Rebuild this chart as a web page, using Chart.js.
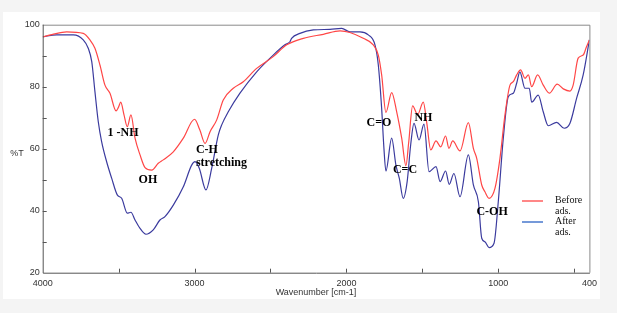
<!DOCTYPE html>
<html>
<head>
<meta charset="utf-8">
<script src="https://cdn.jsdelivr.net/npm/chart.js@4.4.1/dist/chart.umd.min.js"></script>
<style>
  html, body { margin: 0; padding: 0; background: #f4f4f4; }
  #wrap { position: absolute; left: 0; top: 0; width: 617px; height: 313px; }
</style>
</head>
<body>
<div id="wrap"><canvas id="ir" width="617" height="313"></canvas></div>
<script>
// FTIR spectra, %T vs wavenumber (cm-1)
const beforeWn = [4000, 3940, 3842, 3733, 3689, 3656, 3623, 3590, 3557, 3517, 3500, 3486, 3465, 3443, 3419, 3392,
  3359, 3326, 3282, 3239, 3206, 3140, 3074, 3000, 2965, 2931, 2898, 2854, 2811, 2745, 2679, 2591, 2482, 2393,
  2284, 2152, 2042, 1977, 1889, 1823, 1790, 1768, 1740, 1702, 1669, 1636, 1608, 1590, 1564, 1531, 1494, 1470,
  1445, 1410, 1379, 1347, 1325, 1300, 1252, 1197, 1164, 1142, 1109, 1088, 1061, 1022, 989, 956, 923, 901, 879,
  853, 824, 802, 780, 741, 704, 664, 612, 572, 528, 507, 474, 441, 419, 400];
const beforeT = [96.1, 96.8, 97.7, 97.2, 95.1, 92.4, 87, 80.5, 77.9, 72.2, 73.5, 75, 71, 67.1, 70.9, 63.4,
  58, 53.9, 53.1, 55.3, 56.4, 59, 63.4, 69.5, 66, 61.7, 65.5, 69.3, 75.7, 79.5, 81.6, 85.9, 89.7, 93.5,
  95.6, 96.9, 98, 97.5, 95.6, 93.5, 90.2, 83.8, 71.7, 78.1, 71.9, 63.4, 54.5, 62, 73.8, 71, 75, 68,
  59.6, 62.5, 60.6, 64.1, 60.1, 62.5, 59.3, 68.4, 60.1, 56.9, 48.3, 46.1, 44, 47.2, 56.9, 70.9, 80.5, 81.6, 83.8,
  85.4, 82.7, 83.8, 80, 83.8, 80.5, 77.9, 80.8, 79.3, 78.6, 80.5, 89.2, 90.2, 92.9, 95.1];

const afterWn = [4000, 3908, 3798, 3733, 3700, 3677, 3656, 3634, 3612, 3579, 3546, 3509, 3480, 3443, 3419, 3392,
  3359, 3320, 3272, 3228, 3195, 3140, 3074, 3019, 2997, 2969, 2925, 2887, 2844, 2822, 2778, 2701, 2591, 2482,
  2405, 2372, 2361, 2306, 2218, 2108, 2031, 1977, 1911, 1856, 1812, 1790, 1768, 1753, 1740, 1702, 1674, 1652,
  1626, 1600, 1577, 1555, 1522, 1489, 1456, 1410, 1383, 1347, 1323, 1292, 1252, 1197, 1164, 1131, 1109, 1088,
  1061, 1028, 1000, 967, 934, 901, 879, 858, 824, 796, 780, 737, 704, 671, 616, 566, 528, 484, 441, 400];
const afterT = [96.1, 96.7, 96.7, 95.1, 92.4, 88.1, 78.4, 68.7, 62.3, 55.8, 50.5, 45.1, 44, 39.2, 39.5, 37,
  34.3, 32.4, 33.8, 37, 38.1, 41.8, 47.7, 54.7, 55.8, 53.7, 46.7, 53.7, 64.4, 67.6, 71.9, 77.9, 84.8, 90.2,
  93.5, 94.5, 95.6, 97.2, 98.3, 98.5, 98.8, 97.7, 97.7, 96.7, 93.5, 87, 73, 60.1, 52.8, 63.4, 54.7, 50.5,
  44, 49.4, 61.2, 68.2, 62.8, 67.9, 52.6, 54.2, 49.4, 52.8, 48.5, 52, 44.5, 58, 48.3, 42.9, 31.1, 30,
  28.1, 29.5, 42.9, 63.4, 76.8, 77.9, 81.1, 84.8, 79.5, 79.5, 75, 77.3, 71.9, 67.4, 68.5, 66.6, 68.2, 76.3, 83.8, 95.1];

const xTickLabels = [4000, 3000, 2000, 1000, 400];
const yTickLabels = [20, 40, 60, 80, 100];
const seriesNames = ['Before\nads.', 'After\nads.'];

// band labels: text, wavenumber, %T
const bandText = ['1 -NH', 'OH', 'C-H', 'stretching', 'C=O', 'NH', 'C=C', 'C-OH'];
const bandWn = [3471, 3307, 2991, 2991, 1786, 1493, 1614, 1041];
const bandT = [65.1, 49.9, 59.5, 55.4, 68.3, 69.9, 53.2, 39.6];
const bandAlign = ['center', 'center', 'left', 'left', 'center', 'center', 'center', 'center'];

const RED = '#ff4646';
const BLUE = '#3b3b9e';

const toPts = (xs, ys) => xs.map((x, i) => ({ x: x, y: ys[i] }));

const decor = {
  id: 'decor',
  beforeDraw(chart) {
    const c = chart.ctx;
    c.save();
    c.fillStyle = '#f4f4f4';
    c.fillRect(0, 0, chart.width, chart.height);
    c.fillStyle = '#ffffff';
    c.fillRect(3, 12, 597, 287);
    c.restore();
  },
  afterDraw(chart) {
    const c = chart.ctx;
    const a = chart.chartArea;
    const xs = chart.scales.x, ys = chart.scales.y;
    c.save();
    // frame
    c.lineWidth = 1;
    c.strokeStyle = '#8a8a8a';
    c.beginPath();
    c.moveTo(a.left, a.top + 0.5); c.lineTo(a.right + 0.5, a.top + 0.5); c.lineTo(a.right + 0.5, a.bottom);
    c.stroke();
    c.strokeStyle = '#555';
    c.beginPath();
    c.moveTo(a.left + 0.5, a.top); c.lineTo(a.left + 0.5, a.bottom + 0.5); c.lineTo(a.right + 0.5, a.bottom + 0.5);
    c.stroke();
    // inward ticks
    c.beginPath();
    [3500, 3000, 2500, 2000, 1500, 1000, 500].forEach(v => {
      const px = Math.round(xs.getPixelForValue(v)) + 0.5;
      c.moveTo(px, a.bottom); c.lineTo(px, a.bottom - 4);
    });
    [30, 40, 50, 60, 70, 80, 90].forEach(v => {
      const py = Math.round(ys.getPixelForValue(v)) + 0.5;
      c.moveTo(a.left, py); c.lineTo(a.left + 4, py);
    });
    c.stroke();
    // axis titles
    c.fillStyle = '#333';
    c.font = '9px "Liberation Sans", Arial, sans-serif';
    c.textBaseline = 'middle';
    c.textAlign = 'center';
    c.fillText('%T', 17, 154);
    c.fillText('Wavenumber [cm-1]', 316, 293);
    // band labels
    c.fillStyle = '#000';
    c.font = 'bold 12px "Liberation Serif", "Times New Roman", serif';
    bandText.forEach((t, i) => {
      c.textAlign = bandAlign[i];
      c.fillText(t, xs.getPixelForValue(bandWn[i]), ys.getPixelForValue(bandT[i]));
    });
    // legend
    const cols = [RED, '#2a62c4'];
    c.font = '10px "Liberation Serif", "Times New Roman", serif';
    c.textAlign = 'left';
    seriesNames.forEach((n, i) => {
      const y = 201 + i * 21;
      c.strokeStyle = cols[i];
      c.lineWidth = 1.3;
      c.beginPath(); c.moveTo(522, y); c.lineTo(543, y); c.stroke();
      c.fillStyle = '#111';
      n.split('\n').forEach((ln, k) => c.fillText(ln, 555, y - 1 + k * 11));
    });
    c.restore();
  }
};

new Chart(document.getElementById('ir'), {
  type: 'line',
  data: {
    datasets: [
      { label: 'Before ads.', data: toPts(beforeWn, beforeT), borderColor: RED, borderWidth: 1.2,
        pointRadius: 0, cubicInterpolationMode: 'monotone', fill: false },
      { label: 'After ads.', data: toPts(afterWn, afterT), borderColor: BLUE, borderWidth: 1.2,
        pointRadius: 0, cubicInterpolationMode: 'monotone', fill: false }
    ]
  },
  options: {
    responsive: false,
    animation: false,
    layout: { padding: { left: 0, top: 24.7, right: 27.6, bottom: 0 } },
    plugins: { legend: { display: false }, tooltip: { enabled: false } },
    scales: {
      x: {
        type: 'linear', reverse: true, min: 400, max: 4000,
        afterBuildTicks: s => { s.ticks = xTickLabels.map(v => ({ value: v })); },
        afterFit: s => { s.height = 40.3; },
        grid: { display: false, drawTicks: false },
        border: { display: false },
        ticks: { padding: 5, maxRotation: 0, autoSkip: false, color: '#333',
          callback: v => String(v),
          font: { size: 9, family: '"Liberation Sans", Arial, sans-serif' } }
      },
      y: {
        min: 20, max: 100,
        afterBuildTicks: s => { s.ticks = yTickLabels.map(v => ({ value: v })); },
        afterFit: s => { s.width = 42.7; },
        grid: { display: false, drawTicks: false },
        border: { display: false },
        ticks: { padding: 3, color: '#333',
          callback: v => String(v),
          font: { size: 9, family: '"Liberation Sans", Arial, sans-serif' } }
      }
    }
  },
  plugins: [decor]
});
</script>
</body>
</html>
